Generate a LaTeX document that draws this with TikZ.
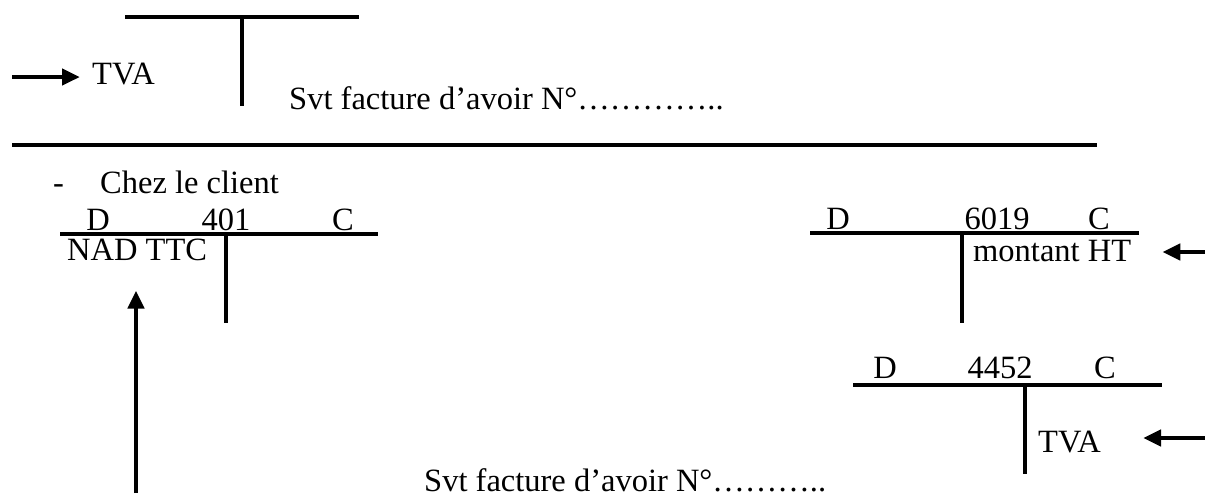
\documentclass[tikz,border=0pt]{standalone}
\usepackage{fontspec}
\setmainfont{Liberation Serif}
\usetikzlibrary{arrows.meta}
\begin{document}
\begin{tikzpicture}[x=1pt,y=-1pt,
  tline/.style={line width=4.5pt},
  arr/.style={line width=4.5pt,-{Triangle[length=18pt,width=16pt]}},
  txt/.style={inner sep=0pt,font=\fontsize{32.5}{39}\selectfont},
  lbl/.style={txt,anchor=base},
  lft/.style={txt,anchor=base west}]
\useasboundingbox (0,0) rectangle (1205,499);
% top partial T account
\draw[tline] (125,17) -- (359,17);
\draw[tline] (242,17) -- (242,106);
\node[lft] (tva1) at (92,84) {TVA};
\coordinate (a1) at (12,77);
\draw[arr, shorten >=12pt] (a1) -- (a1 -| tva1.west);
\node[lft] (svt1) at (289,109) {Svt facture d’avoir N°…………..};
% separator
\draw[tline] (12,145) -- (1097,145);
% heading
\node[lft] (dash) at (53,193) {-};
\node[lft] (chez) at (100,193) {Chez le client};
% account 401
\draw[tline] (60,234) -- (378,234);
\draw[tline] (226,234) -- (226,323);
\node[lbl] (d401) at (98,230) {D};
\node[lbl] (n401) at (226,230) {401};
\node[lbl] (c401) at (343,230) {C};
\node[lft] (nad) at (67,260) {NAD TTC};
\coordinate (b1) at (136,493);
\draw[arr, shorten >=30pt] (b1) -- (b1 |- nad.south);
% account 6019
\draw[tline] (810,233) -- (1139,233);
\draw[tline] (962,233) -- (962,323);
\node[lbl] (d6019) at (838,229) {D};
\node[lbl] (n6019) at (997,229) {6019};
\node[lbl] (c6019) at (1099,229) {C};
\node[lft] (mht) at (973,261) {montant HT};
\coordinate (r1) at (1205,252);
\draw[arr, shorten >=31pt] (r1) -- (r1 -| mht.east);
% account 4452
\draw[tline] (853,385) -- (1162,385);
\draw[tline] (1025,385) -- (1025,474);
\node[lbl] (d4452) at (885,378) {D};
\node[lbl] (n4452) at (1000,378) {4452};
\node[lbl] (c4452) at (1105,378) {C};
\node[lft] (tva2) at (1038,452) {TVA};
\coordinate (r2) at (1205,438);
\draw[arr, shorten >=42pt] (r2) -- (r2 -| tva2.east);
\node[lft] (svt2) at (424,491) {Svt facture d’avoir N°………..};
\end{tikzpicture}
\end{document}
